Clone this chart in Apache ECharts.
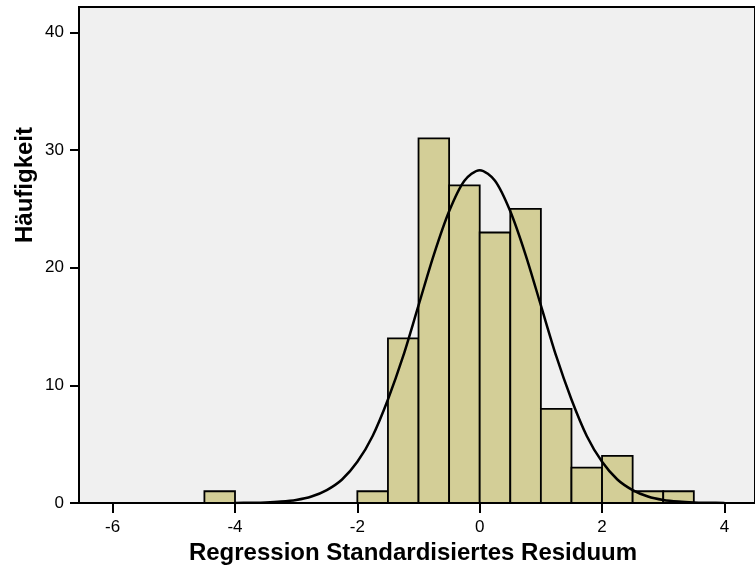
<!DOCTYPE html>
<html>
<head>
<meta charset="utf-8">
<script src="https://cdn.jsdelivr.net/npm/echarts@6/dist/echarts.min.js"></script>
<style>
  html, body { margin: 0; padding: 0; background: #fff; }
  #main { width: 755px; height: 575px; }
</style>
</head>
<body>
<div id="main"></div>
<script>
// Histogramm: Klassengrenzen und Häufigkeiten
var binStart = [-4.5, -2, -1.5, -1, -0.5, 0, 0.5, 1, 1.5, 2, 2.5, 3];
var binEnd   = [-4, -1.5, -1, -0.5, 0, 0.5, 1, 1.5, 2, 2.5, 3, 3.5];
var counts   = [1, 1, 14, 31, 27, 23, 25, 8, 3, 4, 1, 1];

// Normalverteilungskurve
var curveX = [-4, -3.75, -3.5, -3.25, -3, -2.75, -2.5, -2.25, -2, -1.75, -1.5, -1.25, -1, -0.75, -0.5, -0.25,
              0, 0.25, 0.5, 0.75, 1, 1.25, 1.5, 1.75, 2, 2.25, 2.5, 2.75, 3, 3.25, 3.5, 3.75, 4];
var curveY = [0, 0.02, 0.05, 0.12, 0.26, 0.55, 1.1, 2.0, 3.5, 5.7, 8.8, 12.5, 16.8, 21.1, 24.8, 27.4,
              28.3, 27.4, 24.8, 21.1, 16.8, 12.5, 8.8, 5.7, 3.5, 2.0, 1.1, 0.55, 0.26, 0.12, 0.05, 0.02, 0];

var xTicks = [-6, -4, -2, 0, 2, 4];
var yTicks = [0, 10, 20, 30, 40];

var chart = echarts.init(document.getElementById('main'));

var histData = [];
for (var i = 0; i < counts.length; i++) {
    histData.push([binStart[i], binEnd[i], counts[i]]);
}
var curveData = [];
for (var j = 0; j < curveX.length; j++) {
    curveData.push([curveX[j], curveY[j]]);
}

var font = '"Liberation Sans", Arial, sans-serif';

var option = {
    animation: false,
    backgroundColor: '#ffffff',
    grid: {
        left: 79,
        top: 7,
        width: 680,
        height: 496,
        show: true,
        backgroundColor: '#f0f0f0',
        borderColor: '#000',
        borderWidth: 2
    },
    xAxis: {
        type: 'value',
        min: -6.55,
        max: 4.5,
        splitLine: { show: false },
        axisLine: { show: true, onZero: false, lineStyle: { color: '#000', width: 2 } },
        axisTick: { show: true, length: 10, lineStyle: { color: '#000', width: 2 }, customValues: xTicks },
        axisLabel: { color: '#000', fontSize: 17, fontFamily: font, margin: 16, customValues: xTicks }
    },
    yAxis: {
        type: 'value',
        min: 0,
        max: 42.17,
        splitLine: { show: false },
        axisLine: { show: true, onZero: false, lineStyle: { color: '#000', width: 2 } },
        axisTick: { show: true, length: 9, lineStyle: { color: '#000', width: 2 }, customValues: yTicks },
        axisLabel: { color: '#000', fontSize: 17, fontFamily: font, margin: 15, customValues: yTicks }
    },
    graphic: [
        {
            type: 'text',
            position: [413, 553],
            style: {
                text: 'Regression Standardisiertes Residuum',
                fontSize: 24,
                fontWeight: 'bold',
                fontFamily: font,
                fill: '#000',
                align: 'center',
                verticalAlign: 'middle'
            }
        },
        {
            type: 'text',
            rotation: Math.PI / 2,
            position: [25, 185],
            style: {
                text: 'Häufigkeit',
                fontSize: 24,
                fontWeight: 'bold',
                fontFamily: font,
                fill: '#000',
                align: 'center',
                verticalAlign: 'middle'
            }
        }
    ],
    series: [
        {
            type: 'custom',
            data: histData,
            encode: { x: [0, 1], y: 2 },
            renderItem: function (params, api) {
                var p0 = api.coord([api.value(0), 0]);
                var p1 = api.coord([api.value(1), api.value(2)]);
                return {
                    type: 'rect',
                    shape: { x: p0[0], y: p1[1], width: p1[0] - p0[0], height: p0[1] - p1[1] },
                    style: { fill: '#d3ce97', stroke: '#000', lineWidth: 1.8 }
                };
            },
            z: 2
        },
        {
            type: 'line',
            data: curveData,
            smooth: 0.3,
            symbol: 'none',
            lineStyle: { color: '#000', width: 2.5 },
            z: 3
        }
    ]
};

chart.setOption(option);
</script>
</body>
</html>
